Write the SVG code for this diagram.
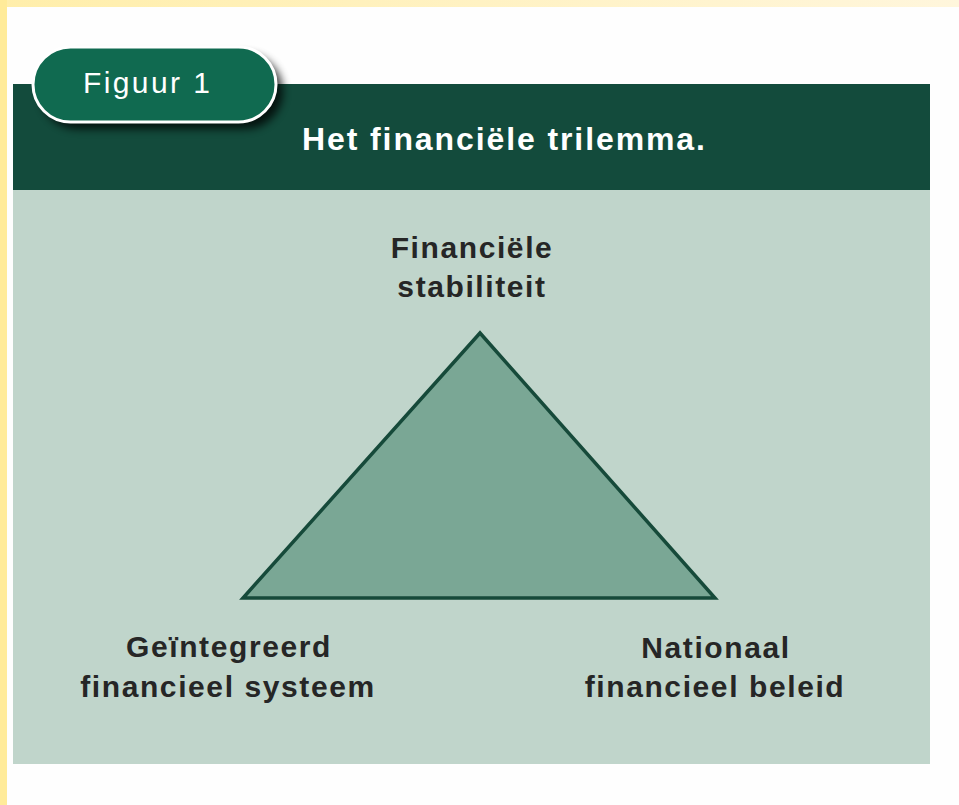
<svg xmlns="http://www.w3.org/2000/svg" width="959" height="805" viewBox="0 0 959 805">
  <defs>
    <linearGradient id="topband" x1="0" y1="0" x2="1" y2="0">
      <stop offset="0" stop-color="#ffeeaa"/>
      <stop offset="1" stop-color="#fff6dc"/>
    </linearGradient>
    <filter id="shadow" x="-20%" y="-30%" width="150%" height="180%">
      <feGaussianBlur stdDeviation="4"/>
    </filter>
    <style>
      .lbl { font-family: "Liberation Sans", Arial, sans-serif; font-weight: bold; font-size: 30px; letter-spacing: 1.6px; fill: #262626; text-anchor: middle; }
      .title { font-family: "Liberation Sans", Arial, sans-serif; font-weight: bold; font-size: 32px; letter-spacing: 1.9px; fill: #ffffff; }
      .fig { font-family: "Liberation Sans", Arial, sans-serif; font-size: 30px; letter-spacing: 2.4px; fill: #ffffff; }
    </style>
  </defs>

  <!-- background and page frame -->
  <rect x="0" y="0" width="959" height="805" fill="#fefefe"/>
  <rect x="0" y="0" width="959" height="7" fill="url(#topband)"/>
  <rect x="0" y="0" width="7" height="805" fill="#ffeb99"/>

  <!-- header band and panel -->
  <rect id="header" x="13" y="84" width="917" height="106" fill="#134b3c"/>
  <rect id="panel" x="13" y="190" width="917" height="574" fill="#c0d5cb"/>

  <!-- Figuur 1 pill -->
  <g id="figure-tag">
    <rect x="40" y="54" width="243" height="75" rx="37.5" fill="#000000" opacity="0.75" filter="url(#shadow)"/>
    <rect x="33" y="47" width="243" height="75" rx="37.5" fill="#106a50" stroke="#ffffff" stroke-width="3"/>
    <text class="fig" x="83" y="93">Figuur 1</text>
  </g>

  <g id="title">
    <text class="title" x="302" y="150">Het financiële trilemma.</text>
  </g>

  <!-- trilemma triangle -->
  <g id="triangle">
    <polygon points="480,333 243,598 715,598" fill="#7aa795" stroke="#164a3a" stroke-width="3.5" stroke-linejoin="miter"/>
  </g>

  <g id="node-stability">
    <text class="lbl" x="472" y="258">Financiële</text>
    <text class="lbl" x="472" y="297">stabiliteit</text>
  </g>

  <g id="node-integrated">
    <text class="lbl" x="229" y="657">Geïntegreerd</text>
    <text class="lbl" x="228" y="697">financieel systeem</text>
  </g>

  <g id="node-national">
    <text class="lbl" x="716" y="658">Nationaal</text>
    <text class="lbl" x="715" y="697">financieel beleid</text>
  </g>
</svg>
